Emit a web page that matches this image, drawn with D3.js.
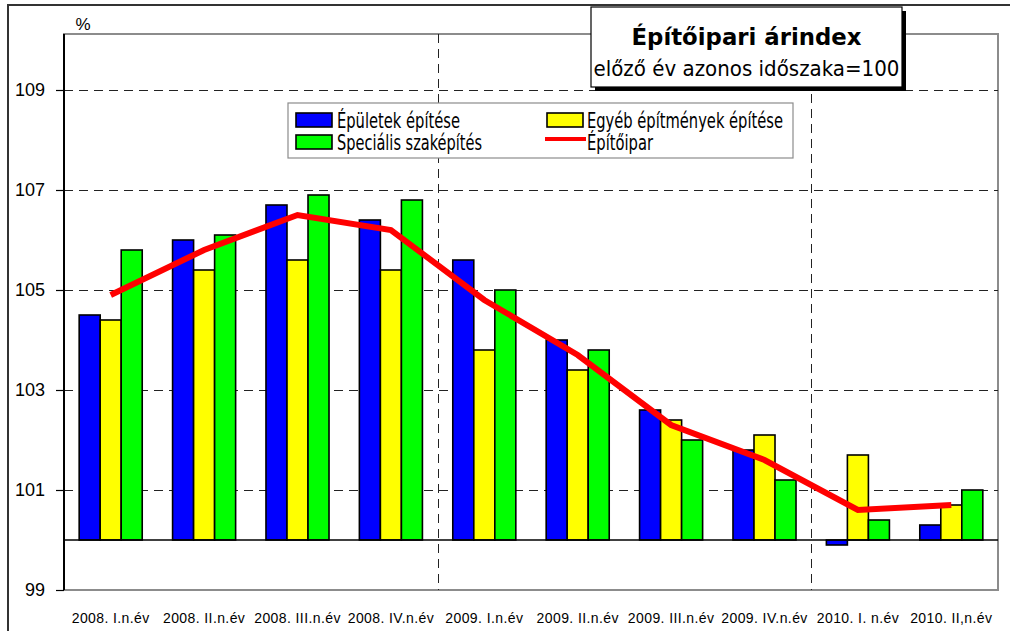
<!DOCTYPE html>
<html>
<head>
<meta charset="utf-8">
<script src="https://cdn.jsdelivr.net/npm/d3@7"></script>
<style>
  html, body { margin: 0; padding: 0; background: #fff; }
  svg { display: block; }
</style>
</head>
<body>
<svg id="chart" width="1010" height="631"></svg>
<script>
const categories = ["2008. I.n.év", "2008. II.n.év", "2008. III.n.év", "2008. IV.n.év", "2009. I.n.év",
                    "2009. II.n.év", "2009. III.n.év", "2009. IV.n.év", "2010. I. n.év", "2010. II,n.év"];
const epuletek   = [104.5, 106.0, 106.7, 106.4, 105.6, 104.0, 102.6, 101.8, 99.9, 100.3];
const egyeb      = [104.4, 105.4, 105.6, 105.4, 103.8, 103.4, 102.4, 102.1, 101.7, 100.7];
const specialis  = [105.8, 106.1, 106.9, 106.8, 105.0, 103.8, 102.0, 101.2, 100.4, 101.0];
const epitoipar  = [104.9, 105.8, 106.5, 106.2, 104.8, 103.7, 102.3, 101.6, 100.6, 100.7];
const yTicks     = [99, 101, 103, 105, 107, 109];
const gridValues = [101, 103, 105, 107, 109];
const barSeries  = ["Épületek építése", "Egyéb építmények építése", "Speciális szaképítés"];
const lineSeries = "Építőipar";
const titleText  = "Építőipari árindex";
const subtitleText = "előző év azonos időszaka=100";
const unitText   = "%";
const baseValue  = 100;

const colors = {"Épületek építése": "#0000FF", "Egyéb építmények építése": "#FFFF00", "Speciális szaképítés": "#00FF00"};
const seriesData = {"Épületek építése": epuletek, "Egyéb építmények építése": egyeb, "Speciális szaképítés": specialis};

const svg = d3.select("#chart");
const plot = {left: 64, right: 998, top: 34, bottom: 590};

// outer chart border
svg.append("rect").attr("x", 8).attr("y", 5).attr("width", 1020).attr("height", 650)
  .attr("fill", "none").attr("stroke", "#333").attr("stroke-width", 2);

const x0 = d3.scaleBand().domain(categories).range([plot.left, plot.right])
  .paddingInner(0.325).paddingOuter(0.1625);
const x1 = d3.scaleBand().domain(barSeries).range([0, x0.bandwidth()]);
const y = d3.scaleLinear().domain([99, 109]).range([590, 90]);

// plot area border (gray)
svg.append("rect").attr("x", plot.left).attr("y", plot.top)
  .attr("width", plot.right - plot.left).attr("height", plot.bottom - plot.top)
  .attr("fill", "none").attr("stroke", "#8c8c8c").attr("stroke-width", 2);

// horizontal dashed gridlines
svg.append("g").selectAll("line").data(gridValues).join("line")
  .attr("x1", plot.left).attr("x2", plot.right)
  .attr("y1", d => y(d) + 0.5).attr("y2", d => y(d) + 0.5)
  .attr("stroke", "#222").attr("stroke-width", 1).attr("stroke-dasharray", "9,6");

// vertical dashed year separators
const step = x0.step();
const separators = [categories[4], categories[8]];
svg.append("g").selectAll("line").data(separators).join("line")
  .attr("x1", d => Math.round(x0(d) - x0.paddingInner() * step / 2) + 0.5)
  .attr("x2", d => Math.round(x0(d) - x0.paddingInner() * step / 2) + 0.5)
  .attr("y1", plot.top).attr("y2", plot.bottom)
  .attr("stroke", "#222").attr("stroke-width", 1).attr("stroke-dasharray", "9,6");

// bars
const groups = svg.append("g").selectAll("g").data(categories).join("g")
  .attr("transform", d => `translate(${x0(d)},0)`);
groups.selectAll("rect").data((c, i) => barSeries.map(s => ({s, v: seriesData[s][i]}))).join("rect")
  .attr("x", d => x1(d.s))
  .attr("width", x1.bandwidth())
  .attr("y", d => y(Math.max(d.v, baseValue)))
  .attr("height", d => Math.abs(y(d.v) - y(baseValue)))
  .attr("fill", d => colors[d.s])
  .attr("stroke", "#000").attr("stroke-width", 1.6);

// base line at 100
svg.append("line").attr("x1", plot.left).attr("x2", plot.right)
  .attr("y1", y(baseValue)).attr("y2", y(baseValue))
  .attr("stroke", "#000").attr("stroke-width", 1.3);

// line series
const line = d3.line().x((d, i) => x0(categories[i]) + x0.bandwidth() / 2).y(d => y(d));
svg.append("path").datum(epitoipar).attr("d", line)
  .attr("fill", "none").attr("stroke", "#FF0000").attr("stroke-width", 6);

// y axis
const yAxis = d3.axisLeft(y).tickValues(yTicks).tickSize(8).tickPadding(11).tickFormat(d3.format("d"));
const gy = svg.append("g").attr("transform", `translate(${plot.left},0)`).call(yAxis);
gy.select(".domain").remove();
gy.selectAll(".tick line").attr("stroke", "#000").attr("stroke-width", 1.2);
gy.selectAll(".tick text").attr("font-family", "Liberation Sans, Arial, sans-serif")
  .attr("font-size", 18).attr("fill", "#000");
svg.append("line").attr("x1", plot.left).attr("x2", plot.left).attr("y1", plot.top).attr("y2", plot.bottom)
  .attr("stroke", "#000").attr("stroke-width", 2);

// x axis labels
const xAxis = d3.axisBottom(x0).tickSize(0).tickPadding(0);
const gx = svg.append("g").attr("transform", `translate(0,${plot.bottom})`).call(xAxis);
gx.select(".domain").remove();
gx.selectAll(".tick text").attr("font-family", "Liberation Sans, Arial, sans-serif")
  .attr("font-size", 14).attr("fill", "#000").attr("dy", null).attr("y", 33)
  .attr("letter-spacing", "0.4px");

// unit label
svg.append("text").attr("x", 83).attr("y", 30).attr("text-anchor", "middle")
  .attr("font-family", "Liberation Sans, Arial, sans-serif").attr("font-size", 17).text(unitText);

// title box
const tb = {x: 591, y: 7, w: 311, h: 80};
svg.append("rect").attr("x", tb.x + 4).attr("y", tb.y + 4).attr("width", tb.w).attr("height", tb.h).attr("fill", "#000");
svg.append("rect").attr("x", tb.x).attr("y", tb.y).attr("width", tb.w).attr("height", tb.h)
  .attr("fill", "#fff").attr("stroke", "#000").attr("stroke-width", 1.2);
svg.append("text").attr("x", tb.x + tb.w / 2).attr("y", 45).attr("text-anchor", "middle")
  .attr("font-family", "DejaVu Sans, Verdana, sans-serif").attr("font-weight", "bold")
  .attr("font-size", 23).attr("textLength", 230).attr("lengthAdjust", "spacingAndGlyphs").text(titleText);
svg.append("text").attr("x", tb.x + tb.w / 2).attr("y", 76).attr("text-anchor", "middle")
  .attr("font-family", "DejaVu Sans, Verdana, sans-serif")
  .attr("font-size", 21).attr("textLength", 306).attr("lengthAdjust", "spacingAndGlyphs").text(subtitleText);

// legend
const lg = svg.append("g");
lg.append("rect").attr("x", 288).attr("y", 103).attr("width", 505).attr("height", 55)
  .attr("fill", "#fff").attr("stroke", "#8c8c8c").attr("stroke-width", 1.2);
const legendItems = [
  {name: barSeries[0], type: "bar", sx: 296, tx: 337, base: 128, tl: 123},
  {name: barSeries[1], type: "bar", sx: 547, tx: 587, base: 128, tl: 196},
  {name: barSeries[2], type: "bar", sx: 296, tx: 337, base: 150, tl: 145},
  {name: lineSeries, type: "line", sx: 545, tx: 587, base: 150, tl: 66}
];
legendItems.forEach(it => {
  if (it.type === "bar") {
    lg.append("rect").attr("x", it.sx).attr("y", it.base - 15).attr("width", 36).attr("height", 14)
      .attr("fill", colors[it.name]).attr("stroke", "#000").attr("stroke-width", 1.6);
  } else {
    lg.append("line").attr("x1", it.sx).attr("x2", it.sx + 41).attr("y1", it.base - 11).attr("y2", it.base - 11)
      .attr("stroke", "#FF0000").attr("stroke-width", 4);
  }
  lg.append("text").attr("x", it.tx).attr("y", it.base)
    .attr("font-family", "DejaVu Sans, Verdana, sans-serif").attr("font-size", 21)
    .attr("textLength", it.tl).attr("lengthAdjust", "spacingAndGlyphs").text(it.name);
});
</script>
</body>
</html>
